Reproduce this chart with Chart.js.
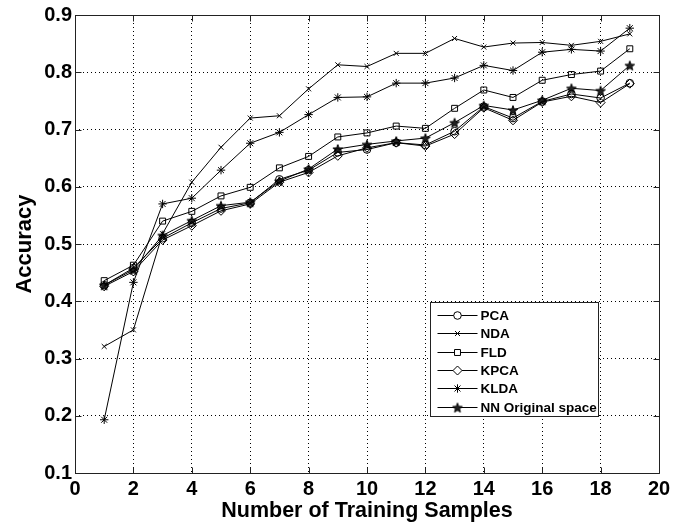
<!DOCTYPE html>
<html>
<head>
<meta charset="utf-8">
<script src="https://cdn.jsdelivr.net/npm/chart.js@4.4.1/dist/chart.umd.min.js"></script>
<style>
  html, body { margin: 0; padding: 0; background: #fff; }
  #wrap { width: 686px; height: 527px; }
</style>
</head>
<body>
<div id="wrap"><canvas id="c" width="686" height="527"></canvas></div>
<script>
// ---- data ----
const samples = [1,2,3,4,5,6,7,8,9,10,11,12,13,14,15,16,17,18,19];
const seriesNames = ['PCA', 'NDA', 'FLD', 'KPCA', 'KLDA', 'NN Original space'];
const pca  = [0.428,0.458,0.510,0.537,0.562,0.572,0.613,0.629,0.660,0.665,0.677,0.673,0.697,0.740,0.720,0.749,0.762,0.755,0.781];
const nda  = [0.321,0.350,0.518,0.608,0.669,0.720,0.724,0.771,0.813,0.810,0.833,0.833,0.859,0.844,0.851,0.852,0.847,0.854,0.867];
const fld  = [0.436,0.463,0.540,0.557,0.584,0.599,0.633,0.653,0.687,0.694,0.706,0.702,0.737,0.769,0.756,0.786,0.796,0.802,0.841];
const kpca = [0.426,0.452,0.507,0.532,0.558,0.570,0.608,0.625,0.654,0.668,0.677,0.671,0.692,0.738,0.716,0.748,0.758,0.747,0.780];
const klda = [0.193,0.433,0.570,0.580,0.629,0.676,0.695,0.726,0.756,0.757,0.781,0.781,0.790,0.812,0.803,0.835,0.840,0.837,0.877];
const nn   = [0.428,0.455,0.515,0.541,0.567,0.573,0.610,0.631,0.666,0.674,0.680,0.685,0.712,0.742,0.734,0.751,0.772,0.768,0.812];
const xTickValues = [0,2,4,6,8,10,12,14,16,18,20];
const yTickValues = [0.1,0.2,0.3,0.4,0.5,0.6,0.7,0.8,0.9];
const xTitle = 'Number of Training Samples';
const yTitle = 'Accuracy';

// ---- pentagram marker ----
function makePentagram(r) {
  const s = Math.ceil(r * 2 + 4);
  const c = document.createElement('canvas');
  c.width = s; c.height = s;
  const g = c.getContext('2d');
  g.beginPath();
  for (let i = 0; i < 10; i++) {
    const rr = (i % 2) ? r * 0.42 : r;
    const a = -Math.PI / 2 + i * Math.PI / 5;
    const px = s / 2 + rr * Math.cos(a), py = s / 2 + 0.6 + rr * Math.sin(a);
    if (i) g.lineTo(px, py); else g.moveTo(px, py);
  }
  g.closePath();
  g.fillStyle = '#222';
  g.fill();
  g.strokeStyle = '#000';
  g.lineWidth = 1;
  g.stroke();
  return c;
}
const pentagram = makePentagram(5);

const seriesData = [pca, nda, fld, kpca, klda, nn];
const styles = ['circle', 'crossRot', 'rect', 'rectRot', 'star', pentagram];
const radii = [3.8, 3.5, 4.2, 4.5, 4.2, 5];

const datasets = seriesNames.map((name, i) => ({
  label: name,
  data: samples.map((x, j) => ({ x: x, y: seriesData[i][j] })),
  borderColor: '#000',
  backgroundColor: 'rgba(0,0,0,0)',
  borderWidth: 1,
  pointStyle: styles[i],
  pointRadius: radii[i],
  pointBorderWidth: 1,
  pointBorderColor: '#000',
  pointBackgroundColor: 'rgba(0,0,0,0)',
  tension: 0,
  fill: false
}));

const FONT = '"Liberation Sans", Arial, Helvetica, sans-serif';

// ---- frame + inward ticks ----
const framePlugin = {
  id: 'frame',
  afterDatasetsDraw(chart) {
    const ctx = chart.ctx, a = chart.chartArea;
    const xs = chart.scales.x, ys = chart.scales.y;
    ctx.save();
    ctx.strokeStyle = '#222';
    ctx.lineWidth = 1;
    ctx.beginPath();
    const L = Math.round(a.left) + 0.5, R = Math.round(a.right) + 0.5;
    const T = Math.round(a.top) + 0.5, B = Math.round(a.bottom) + 0.5;
    ctx.rect(L, T, R - L, B - T);
    const tl = 6;
    xTickValues.forEach(v => {
      const px = Math.round(xs.getPixelForValue(v)) + 0.5;
      ctx.moveTo(px, B); ctx.lineTo(px, B - tl);
      ctx.moveTo(px, T); ctx.lineTo(px, T + tl);
    });
    yTickValues.forEach(v => {
      const py = Math.round(ys.getPixelForValue(v)) + 0.5;
      ctx.moveTo(L, py); ctx.lineTo(L + tl, py);
      ctx.moveTo(R, py); ctx.lineTo(R - tl, py);
    });
    ctx.stroke();
    ctx.restore();
  }
};

// ---- legend inside plot ----
const boxLegend = {
  id: 'boxLegend',
  afterDraw(chart) {
    const ctx = chart.ctx, a = chart.chartArea;
    const bx = Math.round(a.left + 355) + 0.5, by = Math.round(a.top + 287) + 0.5;
    const bw = 168, bh = 114;
    ctx.save();
    ctx.fillStyle = '#fff';
    ctx.fillRect(bx, by, bw, bh);
    ctx.strokeStyle = '#222';
    ctx.lineWidth = 1;
    ctx.strokeRect(bx, by, bw, bh);
    ctx.font = 'bold 13.5px ' + FONT;
    ctx.textBaseline = 'middle';
    chart.data.datasets.forEach((ds, i) => {
      const cy = Math.round(by + 12.5 + i * 18.3) + 0.5;
      ctx.beginPath();
      ctx.strokeStyle = '#000';
      ctx.lineWidth = 1;
      ctx.moveTo(bx + 7, cy); ctx.lineTo(bx + 47, cy);
      ctx.stroke();
      ctx.fillStyle = '#fff';
      ctx.strokeStyle = '#000';
      Chart.helpers.drawPoint(ctx, {
        pointStyle: ds.pointStyle, radius: ds.pointRadius, rotation: 0, borderWidth: 1
      }, bx + 27, cy);
      ctx.fillStyle = '#000';
      ctx.fillText(ds.label, bx + 50, cy + 1);
    });
    ctx.restore();
  }
};

new Chart(document.getElementById('c'), {
  type: 'line',
  data: { datasets: datasets },
  options: {
    responsive: false,
    animation: false,
    devicePixelRatio: 1,
    layout: { padding: { top: 14, right: 27, left: 0, bottom: 0 } },
    plugins: { legend: { display: false }, tooltip: { enabled: false } },
    scales: {
      x: {
        type: 'linear',
        min: 0, max: 20,
        afterBuildTicks: s => { s.ticks = xTickValues.map(v => ({ value: v })); },
        afterFit: s => { s.height = 54; },
        ticks: {
          color: '#000',
          font: { family: FONT, size: 20, weight: 'bold' },
          padding: 4,
          maxRotation: 0,
          callback: v => String(v)
        },
        grid: {
          color: '#000', lineWidth: 1, drawTicks: false
        },
        border: { display: false, dash: [1, 3] },
        title: {
          display: true, text: xTitle, color: '#000',
          font: { family: FONT, size: 21.5, weight: 'bold' },
          padding: { top: 0, bottom: 3 }
        }
      },
      y: {
        type: 'linear',
        min: 0.1, max: 0.9,
        afterBuildTicks: s => { s.ticks = yTickValues.map(v => ({ value: v })); },
        afterFit: s => { s.width = 75; },
        ticks: {
          color: '#000',
          font: { family: FONT, size: 20, weight: 'bold' },
          padding: 3,
          callback: v => Number(v).toFixed(1)
        },
        grid: {
          color: '#000', lineWidth: 1, drawTicks: false
        },
        border: { display: false, dash: [1, 3] },
        title: {
          display: true, text: yTitle, color: '#000',
          font: { family: FONT, size: 22, weight: 'bold' },
          padding: { top: 12, bottom: 0 }
        }
      }
    }
  },
  plugins: [framePlugin, boxLegend]
});
</script>
</body>
</html>
